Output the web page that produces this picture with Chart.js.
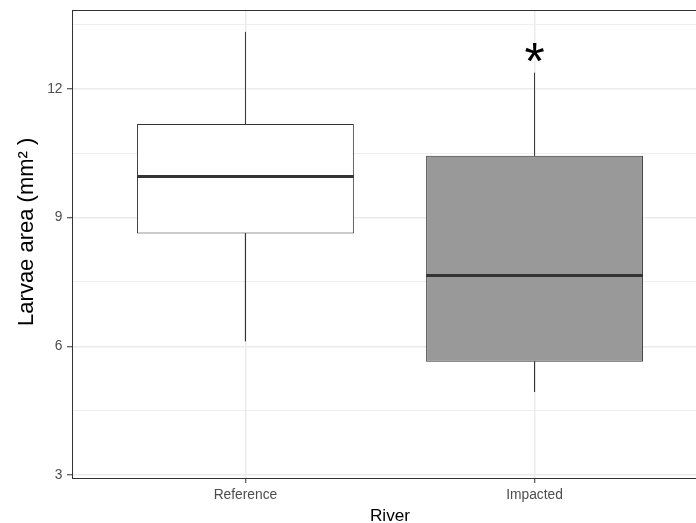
<!DOCTYPE html>
<html>
<head>
<meta charset="utf-8">
<script src="https://cdn.jsdelivr.net/npm/chart.js@4.4.1/dist/chart.umd.min.js"></script>
<style>
  html, body { margin: 0; padding: 0; overflow: hidden; background: #fff; }
  #wrap { width: 716px; height: 523px; }
</style>
</head>
<body>
<div id="wrap"><canvas id="box"></canvas></div>
<script>
// box stats
const rivers = ["Reference", "Impacted"];
const whiskerLow = [6.12, 4.94];
const q1 = [8.63, 5.64];
const medians = [9.96, 7.65];
const q3 = [11.18, 10.44];
const whiskerHigh = [13.33, 12.38];
const sigLabels = ["", "*"];
const sigY = [null, 12.84];

const yTicks = [3, 6, 9, 12];
const yMinor = [4.5, 7.5, 10.5, 13.5];

const boxFills = ["#FFFFFF", "#999999"];
const BOX_W = 0.75;
const FONT = "'Liberation Sans', Arial, Helvetica, sans-serif";

const xs = rivers.map((_, i) => i + 1);

const boxData = xs.map((x, i) => ({ x, y: [q1[i], q3[i]] }));

const whiskerData = [];
xs.forEach((x, i) => {
  whiskerData.push({ x, y: q3[i] }, { x, y: whiskerHigh[i] }, { x, y: null });
  whiskerData.push({ x, y: q1[i] }, { x, y: whiskerLow[i] }, { x, y: null });
});

const medianData = [];
xs.forEach((x, i) => {
  medianData.push({ x: x - BOX_W / 2, y: medians[i] }, { x: x + BOX_W / 2, y: medians[i] }, { x, y: null });
});

const frameAndStars = {
  id: "frameAndStars",
  afterDatasetsDraw(chart) {
    const { ctx, chartArea: a, scales } = chart;
    ctx.save();
    ctx.strokeStyle = "#333333";
    ctx.lineWidth = 1;
    ctx.strokeRect(Math.round(a.left) + 0.5, Math.round(a.top) + 0.5,
      Math.round(a.right - a.left), Math.round(a.bottom - a.top));

    ctx.fillStyle = "#000000";
    ctx.font = "52px " + FONT;
    ctx.textAlign = "center";
    ctx.textBaseline = "alphabetic";
    sigLabels.forEach((t, i) => {
      if (!t) return;
      const px = scales.x.getPixelForValue(xs[i]);
      const py = scales.y.getPixelForValue(sigY[i]);
      const m = ctx.measureText(t);
      const shift = (m.actualBoundingBoxAscent - m.actualBoundingBoxDescent) / 2;
      ctx.fillText(t, px, py + shift);
    });
    ctx.restore();
  }
};

new Chart(document.getElementById("box"), {
  type: "bar",
  data: {
    datasets: [
      {
        type: "line",
        data: medianData,
        borderColor: "#333333",
        borderWidth: 3,
        borderCapStyle: "butt",
        pointRadius: 0,
        spanGaps: false,
        order: 0
      },
      {
        type: "line",
        data: whiskerData,
        borderColor: "#333333",
        borderWidth: 1,
        pointRadius: 0,
        spanGaps: false,
        order: 1
      },
      {
        type: "bar",
        data: boxData,
        backgroundColor: boxFills,
        borderColor: "#333333",
        borderWidth: 1,
        borderSkipped: false,
        categoryPercentage: 1,
        barPercentage: BOX_W,
        order: 2
      }
    ]
  },
  options: {
    responsive: true,
    maintainAspectRatio: false,
    animation: false,
    layout: { padding: { top: 10, right: 8, left: 0, bottom: 0 } },
    plugins: { legend: { display: false }, tooltip: { enabled: false } },
    scales: {
      x: {
        type: "linear",
        min: 0.4,
        max: 2.6,
        offset: false,
        afterBuildTicks: (s) => { s.ticks = xs.map(v => ({ value: v })); },
        afterFit: (s) => { s.height = 45; },
        ticks: {
          callback: (v) => rivers[v - 1] || "",
          color: "#4D4D4D",
          font: { family: FONT, size: 13.8 },
          padding: 3.7,
          maxRotation: 0,
          autoSkip: false
        },
        grid: {
          offset: false,
          color: "#EBEBEB",
          lineWidth: 1.5,
          tickColor: "#333333",
          tickLength: 5,
          tickWidth: 1
        },
        border: { display: false },
        title: {
          display: true,
          text: "River",
          color: "#000000",
          font: { family: FONT, size: 17.2, lineHeight: 1 },
          padding: { top: 0, bottom: -2 }
        }
      },
      y: {
        type: "linear",
        min: 2.93,
        max: 13.84,
        beginAtZero: false,
        afterBuildTicks: (s) => {
          s.ticks = yTicks.concat(yMinor).sort((a, b) => a - b).map(v => ({ value: v }));
        },
        afterFit: (s) => { s.width = 72; s.paddingTop = 0; s.paddingBottom = 0; },
        ticks: {
          callback: (v) => yTicks.includes(v) ? String(v) : "",
          color: "#4D4D4D",
          font: { family: FONT, size: 13.8 },
          padding: 4.5
        },
        grid: {
          color: "#EBEBEB",
          lineWidth: (c) => yTicks.includes(c.tick && c.tick.value) ? 1.5 : 0.8,
          tickColor: (c) => yTicks.includes(c.tick && c.tick.value) ? "#333333" : "rgba(0,0,0,0)",
          tickLength: 5,
          tickWidth: 1
        },
        border: { display: false },
        title: {
          display: true,
          text: "    Larvae area (mm² )",
          color: "#000000",
          font: { family: FONT, size: 22, lineHeight: 1 },
          padding: { top: 16, bottom: 0 }
        }
      }
    }
  },
  plugins: [frameAndStars]
});
</script>
</body>
</html>
